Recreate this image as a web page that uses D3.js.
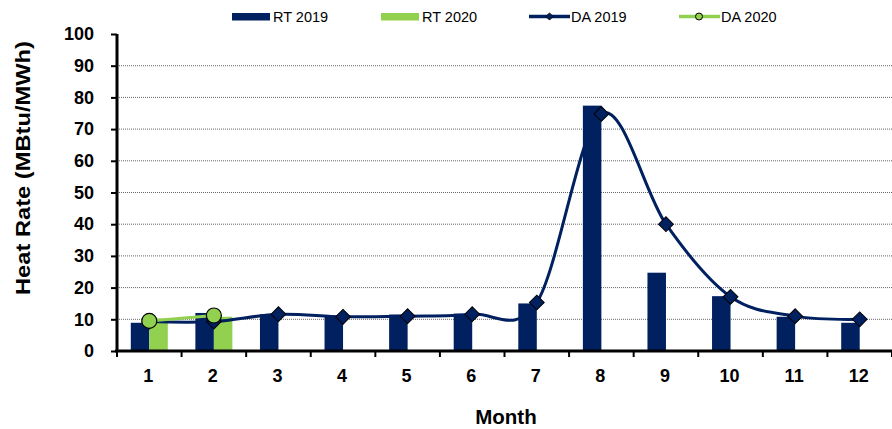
<!DOCTYPE html>
<html><head><meta charset="utf-8">
<script src="https://cdn.jsdelivr.net/npm/d3@7"></script>
<style>body{margin:0;background:#fff;}svg{display:block;font-family:"Liberation Sans",Arial,sans-serif;}</style>
</head><body><svg id="c" width="892" height="429"></svg>
<script>
const months = [1,2,3,4,5,6,7,8,9,10,11,12];
const rt2019 = [8.9,12.0,11.6,11.0,11.5,11.8,15.0,77.4,24.7,17.3,10.8,8.9];
const rt2020 = [10.2,10.8];
const da2019 = [9.3,9.3,11.6,10.8,11.0,11.6,15.3,74.8,40.0,17.1,11.0,10.0];
const da2020 = [9.5,11.2];
const yTicks = [0,10,20,30,40,50,60,70,80,90,100];
const seriesNames = ["RT 2019","RT 2020","DA 2019","DA 2020"];
const NAVY = "#002060", GREEN = "#92D050";
const FONT = '"Liberation Sans",Arial,sans-serif';

const svg = d3.select("#c");
const L = 117, R = 892, T = 34, B = 351;
const x = d3.scaleBand().domain(months).range([L, R]).paddingInner(0).paddingOuter(0);
const x1 = d3.scaleBand().domain([0,1]).range([0, 37]);
const y = d3.scaleLinear().domain([0,100]).range([B, T]);
const cx = m => x(m) + x.bandwidth()/2;

// gridlines
svg.append("g").selectAll("line").data(yTicks.filter(v => v>0 && v<100)).join("line")
  .attr("x1", L).attr("x2", R).attr("y1", d=>y(d)).attr("y2", d=>y(d))
  .attr("stroke", "#666").attr("stroke-width", 1).attr("stroke-dasharray", "1,1");

// bars
const off = x.bandwidth()/2 - 18.5;
svg.append("g").selectAll("rect").data(rt2019).join("rect")
  .attr("x", (d,i)=>x(months[i]) + off + x1(0)).attr("width", 18.5)
  .attr("y", d=>y(d)).attr("height", d=>B - y(d)).attr("fill", NAVY);
svg.append("g").selectAll("rect").data(rt2020).join("rect")
  .attr("x", (d,i)=>x(months[i]) + off + x1(1)).attr("width", 18.5)
  .attr("y", d=>y(d)).attr("height", d=>B - y(d)).attr("fill", GREEN);

// DA 2019 line
const line = d3.line().x((d,i)=>cx(months[i])).y(d=>y(d)).curve(d3.curveCardinal.tension(0));
svg.append("path").datum(da2019).attr("d", line).attr("fill","none").attr("stroke", NAVY).attr("stroke-width", 3);
svg.append("g").selectAll("path").data(da2019).join("path")
  .attr("d", d3.symbol(d3.symbolSquare, 110)())
  .attr("transform", (d,i)=>`translate(${cx(months[i])},${y(d)}) rotate(45)`)
  .attr("fill", NAVY).attr("stroke", "#000").attr("stroke-width", 1);

// DA 2020
const line2 = d3.line().x((d,i)=>cx(months[i])).y(d=>y(d));
svg.append("path").datum(da2020).attr("d", line2).attr("fill","none").attr("stroke", GREEN).attr("stroke-width", 3);
svg.append("g").selectAll("circle").data(da2020).join("circle")
  .attr("cx", (d,i)=>cx(months[i])).attr("cy", d=>y(d)).attr("r", 7.5)
  .attr("fill", GREEN).attr("stroke", "#000").attr("stroke-width", 1.2);

// axes
const yAxis = svg.append("g").attr("transform", `translate(${L},0)`)
  .call(d3.axisLeft(y).tickValues(yTicks).tickSize(6).tickPadding(17));
yAxis.select(".domain").attr("stroke","#000").attr("stroke-width",3).attr("d", `M0,${T}V${B}`);
yAxis.selectAll(".tick line").attr("stroke","#000").attr("stroke-width",2);
yAxis.selectAll(".tick text").attr("font-size", 18).attr("font-weight","bold").attr("fill","#000")
  .attr("font-family", FONT);

const xBounds = d3.range(13).map(i => L + i*x.bandwidth());
const xg = svg.append("g");
xg.append("line").attr("x1", L-2).attr("x2", R).attr("y1", B).attr("y2", B).attr("stroke","#000").attr("stroke-width",3);
xg.selectAll("line.t").data(xBounds).join("line").attr("class","t")
  .attr("x1", d=>d).attr("x2", d=>d).attr("y1", B).attr("y2", B+6).attr("stroke","#000").attr("stroke-width",2);
xg.selectAll("text").data(months).join("text")
  .attr("x", d=>cx(d)-1).attr("y", 382).attr("text-anchor","middle")
  .attr("font-size", 18).attr("font-weight","bold").text(d=>d);

// titles
svg.append("text").attr("transform", "translate(30,168) rotate(-90)").attr("text-anchor","middle")
  .attr("font-size", 19.5).attr("font-weight","bold")
  .attr("textLength", 254).attr("lengthAdjust", "spacingAndGlyphs")
  .text("Heat Rate (MBtu/MWh)");
svg.append("text").attr("x", 506).attr("y", 424).attr("text-anchor","middle")
  .attr("font-size", 20.5).attr("font-weight","bold").text("Month");

// legend
const lg = svg.append("g");
const items = [
  {name: seriesNames[0], type:"bar", color:NAVY, x0:232},
  {name: seriesNames[1], type:"bar", color:GREEN, x0:381},
  {name: seriesNames[2], type:"line", color:NAVY, x0:529},
  {name: seriesNames[3], type:"line", color:GREEN, x0:679}
];
items.forEach(it => {
  if (it.type === "bar") {
    lg.append("rect").attr("x", it.x0).attr("y", 13).attr("width", 38).attr("height", 7.5).attr("fill", it.color);
  } else {
    lg.append("line").attr("x1", it.x0).attr("x2", it.x0+41).attr("y1", 16.5).attr("y2", 16.5)
      .attr("stroke", it.color).attr("stroke-width", 3.5);
    if (it.color === NAVY) {
      lg.append("path").attr("d", d3.symbol(d3.symbolSquare, 26)())
        .attr("transform", `translate(${it.x0+20.5},16.5) rotate(45)`).attr("fill", NAVY).attr("stroke","#000").attr("stroke-width",0.8);
    } else {
      lg.append("circle").attr("cx", it.x0+20).attr("cy", 16.5).attr("r", 3.5).attr("fill", GREEN).attr("stroke","#000").attr("stroke-width",1);
    }
  }
  lg.append("text").attr("x", it.x0 + (it.type==="bar"?41:42)).attr("y", 22).attr("font-size", 14.5).attr("fill","#000").text(it.name);
});
</script></body></html>
